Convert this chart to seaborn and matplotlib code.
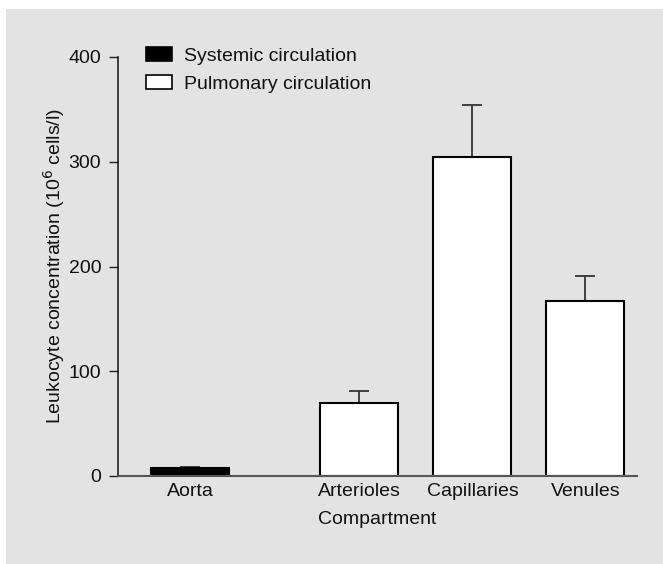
import numpy as np
import pandas as pd
import matplotlib
matplotlib.use('Agg')
import matplotlib.pyplot as plt
from matplotlib.patches import Rectangle, Patch
import seaborn as sns

# ===================== data =====================
compartments = ['Aorta', 'Arterioles', 'Capillaries', 'Venules']
circulation = ['Systemic circulation', 'Pulmonary circulation',
               'Pulmonary circulation', 'Pulmonary circulation']
leukocytes = [8, 70, 305, 167]
leuko_sd = [1, 11, 49, 24]

# layout: gap between aorta and the pulmonary group
x_pos = [0.0, 1.5, 2.5, 3.5]

sns.set_style('ticks')
plt.rcParams['font.family'] = ['Liberation Sans', 'DejaVu Sans']
plt.rcParams['font.size'] = 14
FS = 14

BG = '#e3e3e3'
fig = plt.figure(figsize=(6.63, 5.64), dpi=100, facecolor='white')
fig.patches.append(Rectangle((6 / 663, 0), 1, 1 - 9 / 564, transform=fig.transFigure,
                             facecolor=BG, edgecolor='none', zorder=-10))
ax = fig.add_axes([118 / 663, 88 / 564, 519 / 663, 419 / 564])
ax.set_facecolor(BG)

df = pd.DataFrame({'pos': x_pos, 'value': leukocytes, 'group': circulation})
palette = {'Systemic circulation': 'black', 'Pulmonary circulation': 'white'}
sns.barplot(data=df, x='pos', y='value', hue='group', palette=palette,
            native_scale=True, dodge=False, width=0.69, edgecolor='black',
            linewidth=1.5, legend=False, ax=ax, zorder=2)

# one-sided (upper) error bars
ax.errorbar(x_pos, leukocytes, yerr=[np.zeros(len(leuko_sd)), leuko_sd],
            fmt='none', ecolor='#333333', elinewidth=1.3, capsize=7.5,
            capthick=1.3, zorder=1)

ax.set_xlim(-0.637, 3.956)
ax.set_ylim(0, 400)
ax.set_yticks([0, 100, 200, 300, 400])
ax.set_xticks(x_pos)
ax.set_xticklabels(compartments)
ax.tick_params(axis='x', length=0, pad=5, labelsize=FS, labelcolor='#111111')
ax.tick_params(axis='y', length=6.5, width=1, pad=5.5, labelsize=FS, color='#222222',
               labelcolor='#111111')

for side in ['top', 'right']:
    ax.spines[side].set_visible(False)
ax.spines['left'].set_color('#111111')
ax.spines['left'].set_linewidth(1.1)
ax.spines['bottom'].set_color('#555555')
ax.spines['bottom'].set_linewidth(1.5)

ax.set_xlabel('Compartment', fontsize=FS, labelpad=8, color='#111111')
ax.set_ylabel('Leukocyte concentration (10$^6$ cells/l)', fontsize=FS, labelpad=1,
              color='#111111')

handles = [Patch(facecolor='black', edgecolor='black', linewidth=1.2, label='Systemic circulation'),
           Patch(facecolor='white', edgecolor='black', linewidth=1.2, label='Pulmonary circulation')]
leg = ax.legend(handles=handles, loc='upper left', bbox_to_anchor=(0.054, 1.024), frameon=False,
                fontsize=FS, handlelength=1.34, handleheight=0.77, handletextpad=0.62,
                labelspacing=0.5, borderaxespad=0, borderpad=0)
for t in leg.get_texts():
    t.set_color('#111111')

fig.savefig('out.png', dpi=100, facecolor=fig.get_facecolor())
